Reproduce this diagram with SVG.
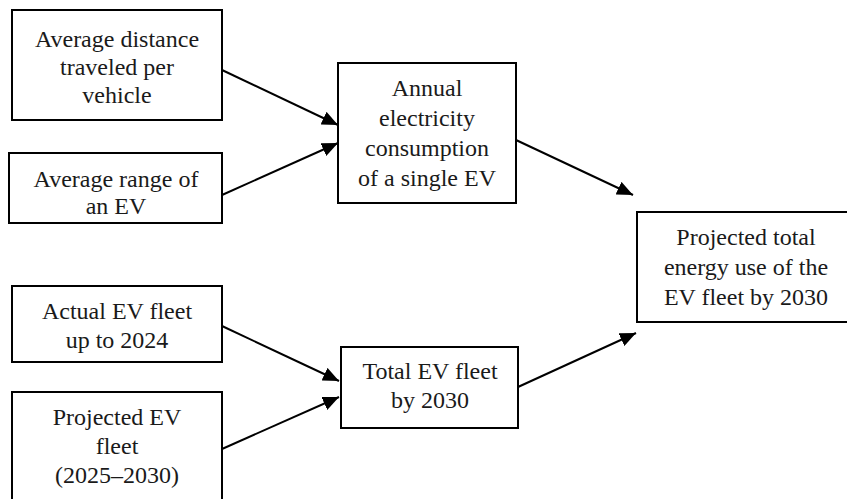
<svg xmlns="http://www.w3.org/2000/svg" width="847" height="499" viewBox="0 0 847 499">
<defs>
<marker id="ah" markerUnits="userSpaceOnUse" markerWidth="18" markerHeight="14" refX="16" refY="7" orient="auto">
<path d="M0,0 L16,7 L0,14 Z" fill="#000"/>
</marker>
</defs>
<rect width="847" height="499" fill="#fff"/>
<g id="connectors" stroke="#000" stroke-width="2" fill="none" marker-end="url(#ah)">
<line x1="222" y1="70" x2="338" y2="125"/>
<line x1="222" y1="195" x2="338" y2="143"/>
<line x1="516" y1="140" x2="633" y2="195"/>
<line x1="222" y1="326" x2="339" y2="381"/>
<line x1="222" y1="449" x2="339" y2="397"/>
<line x1="518" y1="387" x2="636" y2="333"/>
</g>
<g id="nodes" font-family="Liberation Serif" font-size="24" text-anchor="middle" fill="#1a1a1a">
<g id="n1"><rect x="12" y="10" width="210" height="110" fill="#fff" stroke="#000" stroke-width="2"/>
<text x="117" y="47">Average distance</text>
<text x="117" y="75">traveled per</text>
<text x="117" y="103">vehicle</text></g>
<g id="n2"><rect x="9" y="153" width="213" height="70" fill="#fff" stroke="#000" stroke-width="2"/>
<text x="116" y="187">Average range of</text>
<text x="116" y="214">an EV</text></g>
<g id="n3"><rect x="338" y="63" width="178" height="140" fill="#fff" stroke="#000" stroke-width="2"/>
<text x="427" y="96">Annual</text>
<text x="427" y="126">electricity</text>
<text x="427" y="156">consumption</text>
<text x="427" y="186">of a single EV</text></g>
<g id="n4"><rect x="637" y="212" width="220" height="110" fill="#fff" stroke="#000" stroke-width="2"/>
<text x="746" y="245">Projected total</text>
<text x="746" y="275">energy use of the</text>
<text x="746" y="305">EV fleet by 2030</text></g>
<g id="n5"><rect x="12" y="286" width="210" height="76" fill="#fff" stroke="#000" stroke-width="2"/>
<text x="117" y="319">Actual EV fleet</text>
<text x="117" y="348">up to 2024</text></g>
<g id="n6"><rect x="12" y="392" width="210" height="120" fill="#fff" stroke="#000" stroke-width="2"/>
<text x="117" y="425">Projected EV</text>
<text x="117" y="454">fleet</text>
<text x="117" y="483">(2025–2030)</text></g>
<g id="n7"><rect x="341" y="347" width="177" height="81" fill="#fff" stroke="#000" stroke-width="2"/>
<text x="430" y="379">Total EV fleet</text>
<text x="430" y="408">by 2030</text></g>
</g>
</svg>
